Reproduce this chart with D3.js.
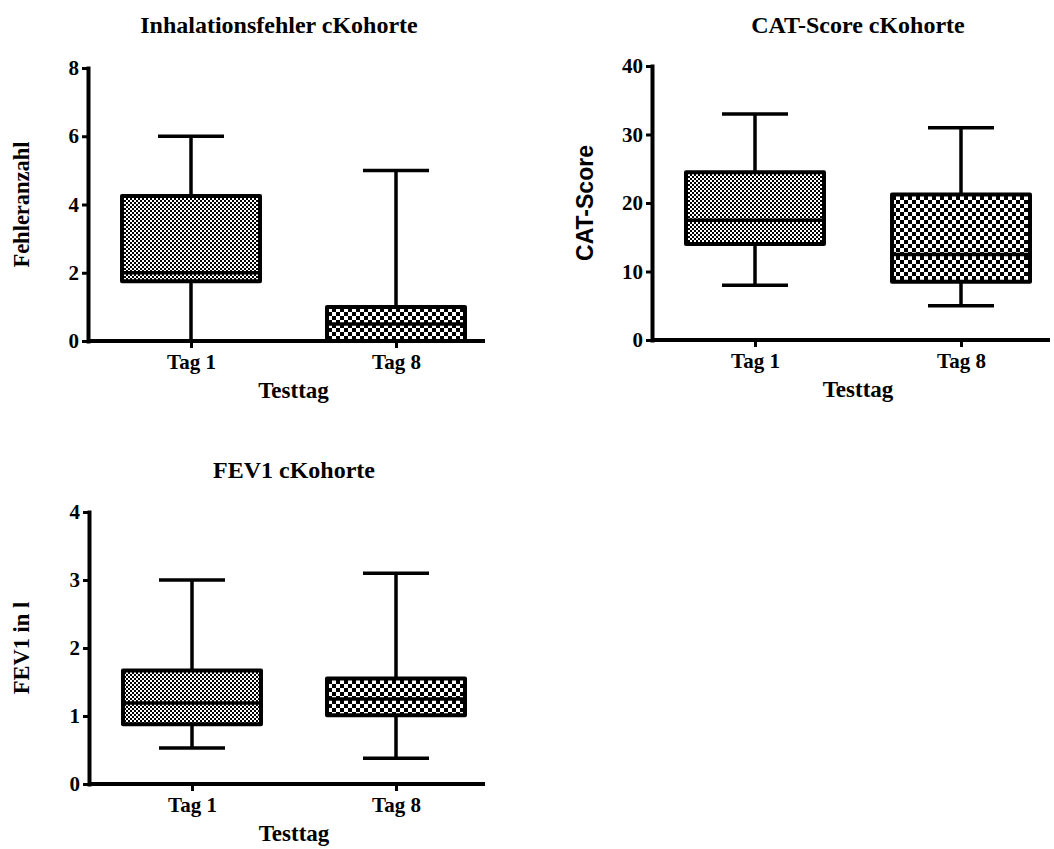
<!DOCTYPE html>
<html><head><meta charset="utf-8">
<script src="https://cdn.jsdelivr.net/npm/d3@7"></script>
<style>
body{margin:0;background:#fff;}
svg{display:block;}
</style></head>
<body>
<svg id="chart" width="1054" height="849"></svg>
<script>
const categories = ["Tag 1", "Tag 8"];

const fehlerMin = [0, 0];
const fehlerQ1 = [1.75, 0];
const fehlerMedian = [2, 0.5];
const fehlerQ3 = [4.25, 1];
const fehlerMax = [6, 5];
const fehlerTicks = [0, 2, 4, 6, 8];

const catMin = [8, 5];
const catQ1 = [14, 8.5];
const catMedian = [17.5, 12.5];
const catQ3 = [24.5, 21.25];
const catMax = [33, 31];
const catTicks = [0, 10, 20, 30, 40];

const fevMin = [0.53, 0.38];
const fevQ1 = [0.88, 1.01];
const fevMedian = [1.19, 1.25];
const fevQ3 = [1.67, 1.55];
const fevMax = [3.0, 3.1];
const fevTicks = [0, 1, 2, 3, 4];

const serif = "'Liberation Serif', 'Times New Roman', serif";
const sans = "'Liberation Sans', Arial, sans-serif";

const svg = d3.select("#chart");
const defs = svg.append("defs");

// fine checker pattern (Tag 1)
const p1 = defs.append("pattern").attr("id", "pat0").attr("patternUnits", "userSpaceOnUse")
  .attr("width", 4).attr("height", 4);
p1.append("rect").attr("width", 4).attr("height", 4).attr("fill", "#fff");
p1.append("rect").attr("x", 0).attr("y", 0).attr("width", 2).attr("height", 2).attr("fill", "#000");
p1.append("rect").attr("x", 2).attr("y", 2).attr("width", 2).attr("height", 2).attr("fill", "#000");
// coarse checker pattern (Tag 8)
const p2 = defs.append("pattern").attr("id", "pat1").attr("patternUnits", "userSpaceOnUse")
  .attr("width", 8).attr("height", 8);
p2.append("rect").attr("width", 8).attr("height", 8).attr("fill", "#fff");
p2.append("rect").attr("x", 0).attr("y", 0).attr("width", 4).attr("height", 4).attr("fill", "#000");
p2.append("rect").attr("x", 4).attr("y", 4).attr("width", 4).attr("height", 4).attr("fill", "#000");

const panels = [
  {title: "Inhalationsfehler cKohorte", ylabel: "Fehleranzahl", yFont: serif,
   min: fehlerMin, q1: fehlerQ1, med: fehlerMedian, q3: fehlerQ3, max: fehlerMax, ticks: fehlerTicks,
   left: 88, right: 485, top: 68, bottom: 341, titleX: 279, titleY: 33, ylabX: 29},
  {title: "CAT-Score cKohorte", ylabel: "CAT-Score", yFont: sans,
   min: catMin, q1: catQ1, med: catMedian, q3: catQ3, max: catMax, ticks: catTicks,
   left: 652, right: 1050, top: 66, bottom: 340, titleX: 858, titleY: 33, ylabX: 593},
  {title: "FEV1 cKohorte", ylabel: "FEV1 in l", yFont: serif,
   min: fevMin, q1: fevQ1, med: fevMedian, q3: fevQ3, max: fevMax, ticks: fevTicks,
   left: 89, right: 485, top: 512, bottom: 784, titleX: 294, titleY: 478, ylabX: 29}
];

panels.forEach(p => {
  const g = svg.append("g");
  const y = d3.scaleLinear().domain([p.ticks[0], p.ticks[p.ticks.length - 1]]).range([p.bottom, p.top]);
  const x = d3.scalePoint().domain(categories).range([p.left + 103, p.right - 89]);
  const boxHalf = 69, capHalf = 33;

  categories.forEach((c, i) => {
    const cx = x(c);
    const bg = g.append("g");
    // whiskers
    bg.append("line").attr("x1", cx).attr("x2", cx).attr("y1", y(p.q3[i])).attr("y2", y(p.max[i]))
      .attr("stroke", "#000").attr("stroke-width", 3.5);
    bg.append("line").attr("x1", cx).attr("x2", cx).attr("y1", y(p.q1[i])).attr("y2", y(p.min[i]))
      .attr("stroke", "#000").attr("stroke-width", 3.5);
    bg.append("line").attr("x1", cx - capHalf).attr("x2", cx + capHalf).attr("y1", y(p.max[i])).attr("y2", y(p.max[i]))
      .attr("stroke", "#000").attr("stroke-width", 3.5);
    bg.append("line").attr("x1", cx - capHalf).attr("x2", cx + capHalf).attr("y1", y(p.min[i])).attr("y2", y(p.min[i]))
      .attr("stroke", "#000").attr("stroke-width", 3.5);
    // box
    bg.append("rect").attr("x", cx - boxHalf).attr("width", 2 * boxHalf)
      .attr("y", y(p.q3[i])).attr("height", y(p.q1[i]) - y(p.q3[i]))
      .attr("fill", "url(#pat" + i + ")").attr("stroke", "#000").attr("stroke-width", 4)
      .attr("stroke-linejoin", "round");
    bg.append("line").attr("x1", cx - boxHalf).attr("x2", cx + boxHalf).attr("y1", y(p.med[i])).attr("y2", y(p.med[i]))
      .attr("stroke", "#000").attr("stroke-width", 3.5);
  });

  // y axis
  const ya = g.append("g").attr("transform", `translate(${p.left},0)`)
    .call(d3.axisLeft(y).tickValues(p.ticks).tickFormat(d3.format("d")).tickSize(6).tickSizeOuter(0).tickPadding(3));
  ya.select(".domain").attr("stroke-width", 4).attr("stroke-linecap", "square");
  ya.selectAll(".tick line").attr("stroke-width", 3);
  ya.selectAll(".tick text").attr("font-family", serif).attr("font-weight", "bold")
    .attr("font-size", 21).attr("fill", "#000");

  // x axis
  const xa = g.append("g").attr("transform", `translate(0,${p.bottom})`)
    .call(d3.axisBottom(x).tickSize(7).tickSizeOuter(0).tickPadding(6));
  xa.select(".domain").remove();
  xa.append("line").attr("x1", p.left).attr("x2", p.right).attr("y1", 0).attr("y2", 0)
    .attr("stroke", "#000").attr("stroke-width", 4);
  xa.selectAll(".tick line").attr("stroke-width", 3);
  xa.selectAll(".tick text").attr("font-family", serif).attr("font-weight", "bold")
    .attr("font-size", 21).attr("fill", "#000");

  // x label
  g.append("text").attr("x", (x(categories[0]) + x(categories[1])) / 2).attr("y", p.bottom + 57)
    .attr("text-anchor", "middle").attr("font-family", serif).attr("font-weight", "bold")
    .attr("font-size", 23).text("Testtag");

  // y label
  g.append("text").attr("transform", `translate(${p.ylabX},${(p.top + p.bottom) / 2}) rotate(-90)`)
    .attr("text-anchor", "middle").attr("font-family", p.yFont).attr("font-weight", "bold")
    .attr("font-size", p.yFont === sans ? 23 : 22.5).text(p.ylabel);

  // title
  g.append("text").attr("x", p.titleX).attr("y", p.titleY).attr("text-anchor", "middle")
    .attr("font-family", serif).attr("font-weight", "bold").attr("font-size", 24).text(p.title);
});
</script>
</body></html>
